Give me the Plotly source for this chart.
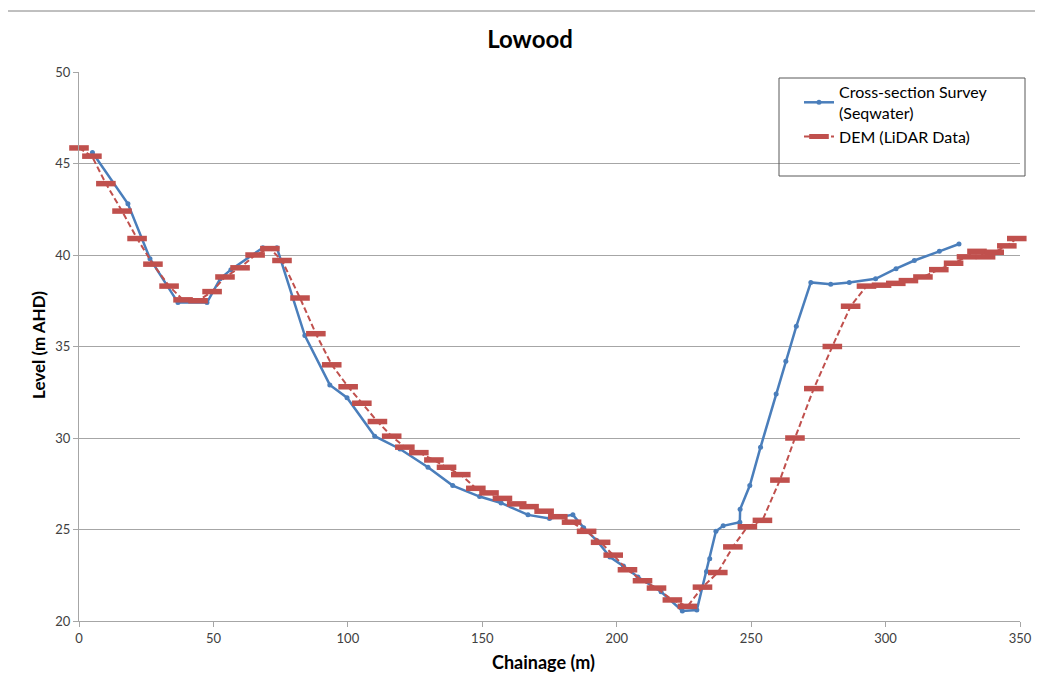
import plotly.graph_objects as go

# Cross-section survey (Seqwater)
survey_x = [5, 18.2, 26.4, 36.8, 47.6, 52.5, 56.5, 68.4, 73.6, 84, 93.3, 99.7, 110, 119.4,
            129.8, 139, 149, 157, 167, 175, 183.7, 187.7, 192.6, 197.5, 202.5, 207.9, 216.5,
            224.4, 229.8, 233.4, 234.6, 236.9, 239.6, 245.8, 245.9, 249.5, 253.5, 259.3,
            262.9, 266.8, 272.2, 279.6, 286.5, 296.3, 303.9, 310.7, 320, 327.3]
survey_y = [45.6, 42.8, 39.8, 37.4, 37.4, 38.7, 39.2, 40.4, 40.4, 35.6, 32.9, 32.2, 30.1, 29.4,
            28.4, 27.4, 26.8, 26.45, 25.8, 25.6, 25.8, 25.1, 24.4, 23.5, 23.0, 22.4, 21.6,
            20.55, 20.6, 22.7, 23.4, 24.9, 25.2, 25.4, 26.1, 27.4, 29.5, 32.4,
            34.2, 36.1, 38.5, 38.4, 38.5, 38.7, 39.25, 39.7, 40.2, 40.6]

# DEM (LiDAR Data)
dem_x = [0, 4.8, 10.0, 16.0, 21.6, 27.5, 33.5, 38.7, 44.3, 49.5, 54.3, 59.9, 65.5, 71.0, 75.5,
         82.2, 88.1, 94.0, 100.1, 105.2, 111.0, 116.3, 121.2, 126.4, 132.0, 136.7, 142.0,
         147.6, 152.5, 157.5, 162.8, 167.4, 173.0, 178.1, 183.2, 188.8, 194.0, 198.7, 204.0,
         209.6, 214.8, 220.7, 226.3, 231.9, 237.6, 243.2, 248.6, 254.2, 260.7, 266.3, 273.3,
         280.2, 287.0, 292.9, 298.5, 303.8, 308.5, 313.9, 319.8, 325.3, 330.1, 334.0, 337.2,
         340.4, 345.1, 348.8]
dem_y = [45.85, 45.4, 43.9, 42.4, 40.9, 39.5, 38.3, 37.55, 37.5, 38.0, 38.8, 39.3, 40.0, 40.35,
         39.7, 37.65, 35.7, 34.0, 32.8, 31.9, 30.9, 30.1, 29.5, 29.2, 28.8, 28.4, 28.0,
         27.25, 27.0, 26.7, 26.4, 26.25, 26.0, 25.7, 25.4, 24.9, 24.3, 23.6, 22.8,
         22.2, 21.8, 21.15, 20.8, 21.85, 22.65, 24.05, 25.15, 25.5, 27.7, 30.0, 32.7,
         35.0, 37.2, 38.3, 38.35, 38.45, 38.6, 38.8, 39.2, 39.55, 39.9, 40.2, 39.9,
         40.15, 40.5, 40.9]

x_ticks = [0, 50, 100, 150, 200, 250, 300, 350]
y_ticks = [20, 25, 30, 35, 40, 45, 50]

FONT = "Lato"
BLUE = "#4A7EBB"
RED = "#C0504D"
GRID = "#A6A6A6"

# page offset (body margin) of 8px: positions below are given in screen pixels
OFF = 8
W, H = 1043 - OFF, 686 - OFF
L, R, T, B = 79 - OFF, 23, 72 - OFF, 65
pw, ph = W - L - R, H - T - B

def px(xs):
    return (xs - OFF - L) / pw

def py(ys):
    return (H - B - (ys - OFF)) / ph

fig = go.Figure()

fig.add_trace(go.Scatter(
    x=survey_x, y=survey_y, mode="lines+markers",
    name="Cross-section Survey<br>(Seqwater)",
    line=dict(color=BLUE, width=2.5),
    marker=dict(symbol="circle", size=5, color=BLUE),
))

fig.add_trace(go.Scatter(
    x=dem_x, y=dem_y, mode="lines+markers",
    name="DEM (LiDAR Data)",
    line=dict(color=RED, width=2, dash="6px,3px"),
    marker=dict(symbol="line-ew", size=14, color=RED, line=dict(color=RED, width=5.5)),
    cliponaxis=False,
))

fig.update_layout(
    width=W, height=H,
    margin=dict(l=L, r=R, t=T, b=B),
    paper_bgcolor="white", plot_bgcolor="white",
    font=dict(family=FONT, size=13, color="#404040"),
    title=dict(text="<b>Lowood</b>", x=(530 - OFF) / W, xref="container",
               y=1 - (40 - OFF) / H, yanchor="middle", xanchor="center",
               font=dict(family=FONT, size=24, color="#000000")),
    showlegend=True,
    legend=dict(x=px(799), y=py(75), xanchor="left", yanchor="top",
                bgcolor="rgba(0,0,0,0)", borderwidth=0,
                font=dict(family=FONT, size=16, color="#000000"),
                tracegroupgap=5, itemwidth=30),
    xaxis=dict(range=[0, 350], tickvals=x_ticks, showgrid=False, zeroline=False,
               showline=True, linecolor=GRID, linewidth=1, ticks="outside",
               ticklen=5, tickcolor=GRID, tickfont=dict(size=13, color="#404040")),
    yaxis=dict(range=[20, 50], tickvals=y_ticks, showgrid=True, gridcolor=GRID,
               gridwidth=1, zeroline=False, showline=True, linecolor=GRID,
               linewidth=1, ticks="outside", ticklen=5, tickcolor=GRID,
               tickfont=dict(size=13, color="#404040")),
    shapes=[
        dict(type="rect", xref="paper", yref="paper", x0=px(779), x1=px(1025),
             y0=py(176), y1=py(78), line=dict(color="#595959", width=1)),
        dict(type="line", xref="paper", yref="paper", x0=px(5), x1=px(1043),
             y0=py(11), y1=py(11), line=dict(color="#808080", width=1)),
        dict(type="line", xref="paper", yref="paper", x0=px(5), x1=px(5),
             y0=py(686), y1=py(11), line=dict(color="#808080", width=1)),
    ],
    annotations=[
        dict(text="<b>Chainage (m)</b>", xref="paper", yref="paper",
             x=px(543), y=py(662), showarrow=False, xanchor="center", yanchor="middle",
             font=dict(family=FONT, size=18, color="#000000")),
        dict(text="<b>Level (m AHD)</b>", xref="paper", yref="paper",
             x=px(38), y=py(345), showarrow=False, xanchor="center", yanchor="middle",
             textangle=-90, font=dict(family=FONT, size=17, color="#000000")),
    ],
)

fig.write_html("out.html")
